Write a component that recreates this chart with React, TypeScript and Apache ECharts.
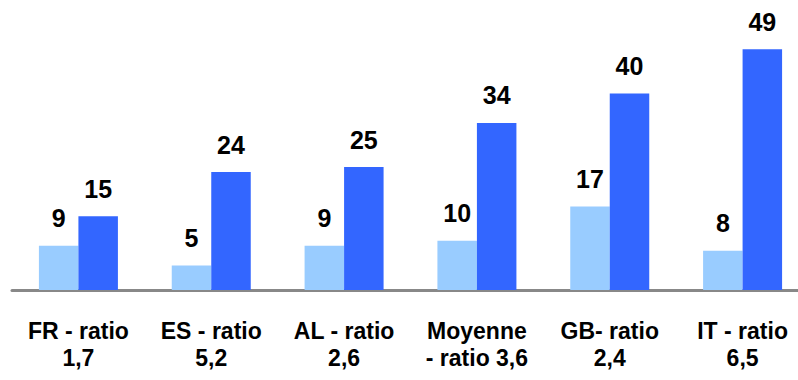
import React, { useEffect, useRef } from "react";
import * as echarts from "echarts";

const categories = [
  "FR - ratio\n1,7",
  "ES - ratio\n5,2",
  "AL - ratio\n2,6",
  "Moyenne\n- ratio 3,6",
  "GB- ratio\n2,4",
  "IT - ratio\n6,5",
];
const seriesLight = [9, 5, 9, 10, 17, 8];
const seriesDark = [15, 24, 25, 34, 40, 49];

export default function App() {
  const ref = useRef<HTMLDivElement>(null);
  useEffect(() => {
    if (!ref.current) return;
    const chart = echarts.init(ref.current, null, { renderer: "svg" });
    const labelStyle = {
      show: true,
      position: "top" as const,
      distance: 15,
      color: "#000",
      fontFamily: "Liberation Sans",
      fontWeight: "bold" as const,
      fontSize: 25,
    };
    chart.setOption({
      animation: false,
      grid: {
        left: 12,
        width: 797,
        top: 0,
        bottom: 90,
        containLabel: false,
        outerBoundsMode: "none",
      },
      xAxis: {
        type: "category",
        data: categories,
        axisTick: { show: false },
        axisLine: { lineStyle: { color: "#888888", width: 3 } },
        axisLabel: {
          interval: 0,
          margin: 27,
          color: "#000",
          fontFamily: "Liberation Sans",
          fontWeight: "bold",
          fontSize: 23,
          lineHeight: 27,
        },
      },
      yAxis: { type: "value", min: 0, max: 59, show: false, splitLine: { show: false } },
      series: [
        {
          type: "bar",
          data: seriesLight,
          barWidth: 39.5,
          barGap: "0%",
          itemStyle: { color: "#99CCFF" },
          label: labelStyle,
        },
        {
          type: "bar",
          data: seriesDark,
          barWidth: 39.5,
          barGap: "0%",
          itemStyle: { color: "#3366FF" },
          label: labelStyle,
        },
      ],
    });
    return () => chart.dispose();
  }, []);
  return (
    <div
      ref={ref}
      style={{ position: "fixed", left: 0, top: 0, width: 798, height: 380, background: "#fff" }}
    />
  );
}
